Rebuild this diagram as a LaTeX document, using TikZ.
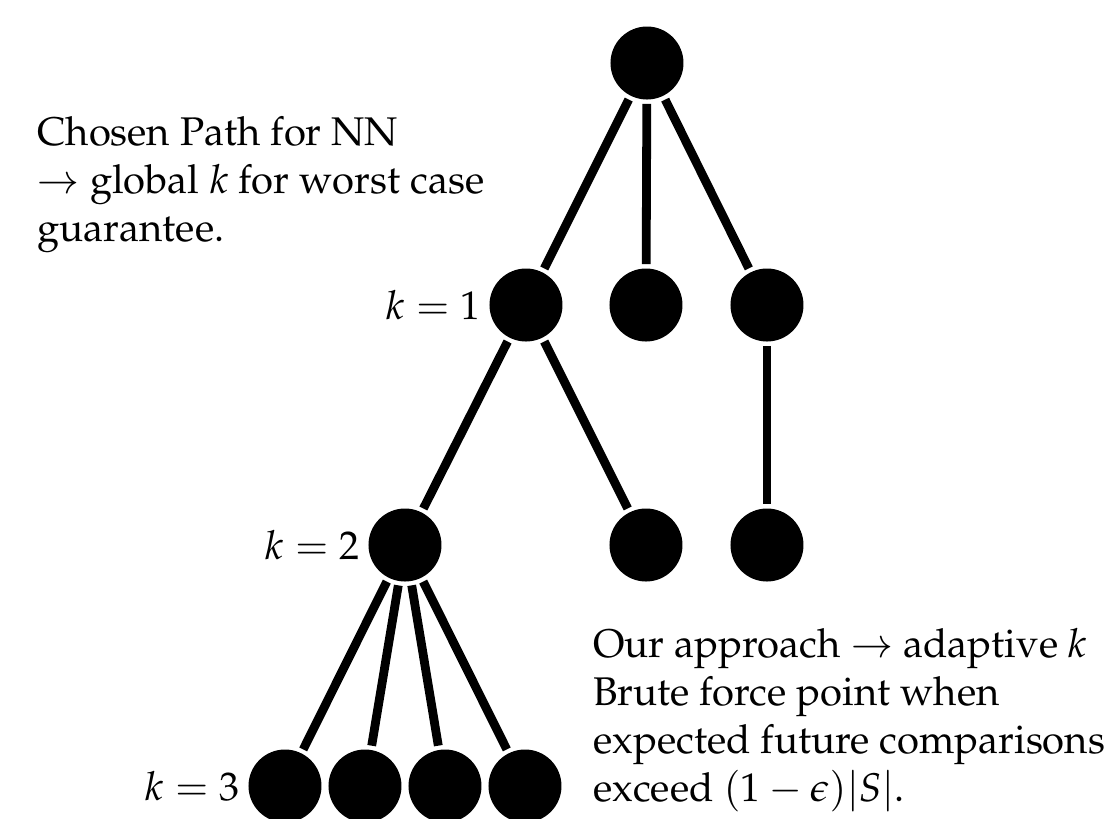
\documentclass[tikz,border=0pt]{standalone}
\usepackage[T1]{fontenc}
\usepackage{mathpazo}
\usetikzlibrary{positioning}

\begin{document}
\begin{tikzpicture}[x=0.25pt,y=-0.25pt,line width=2.2pt,
        main node/.style={circle,fill=black,inner sep=0pt,minimum size=18.25pt},
        every label/.style={inner sep=0pt,font=\fontsize{10}{12}\selectfont},
        note/.style={align=left,inner sep=0pt,font=\fontsize{10}{12}\selectfont}]
        \useasboundingbox (0,0) rectangle (1108,818);
        \node[main node] (r) at (647,63) {};
        \node[main node, label={left:$k=1$}] (a) at (526,305) {};
        \node[main node] (b) at (646,305) {};
        \node[main node] (c) at (767,305) {};
        \node[main node, label={left:$k=2$}] (aa) at (405,545) {};
        \node[main node] (ab) at (646,545) {};
        \node[main node] (ca) at (767,545) {};
        \node[main node, label={left:$k=3$}] (aaa) at (285,786) {};
        \node[main node] (aab) at (365,786) {};
        \node[main node] (aac) at (445,786) {};
        \node[main node] (aad) at (525,786) {};
        \path
        (r) edge (a)
        (r) edge (b)
        (r) edge (c)
        (a) edge (aa)
        (a) edge (ab)
        (c) edge (ca)
        (aa) edge (aaa)
        (aa) edge (aab)
        (aa) edge (aac)
        (aa) edge (aad)
        ;
        % notes
        \node[note, anchor=north west] (chosen) at (33,112)
        {Chosen Path for NN\\ $\rightarrow$ global $k$ for worst case\\ guarantee.};
        \node[note, anchor=north west] (ours) at (589,624)
        {Our approach $\rightarrow$ adaptive $k$\\ Brute force point when\\
        expected future comparisons\\ exceed $(1-\epsilon)|S|$.};
\end{tikzpicture}
\end{document}
